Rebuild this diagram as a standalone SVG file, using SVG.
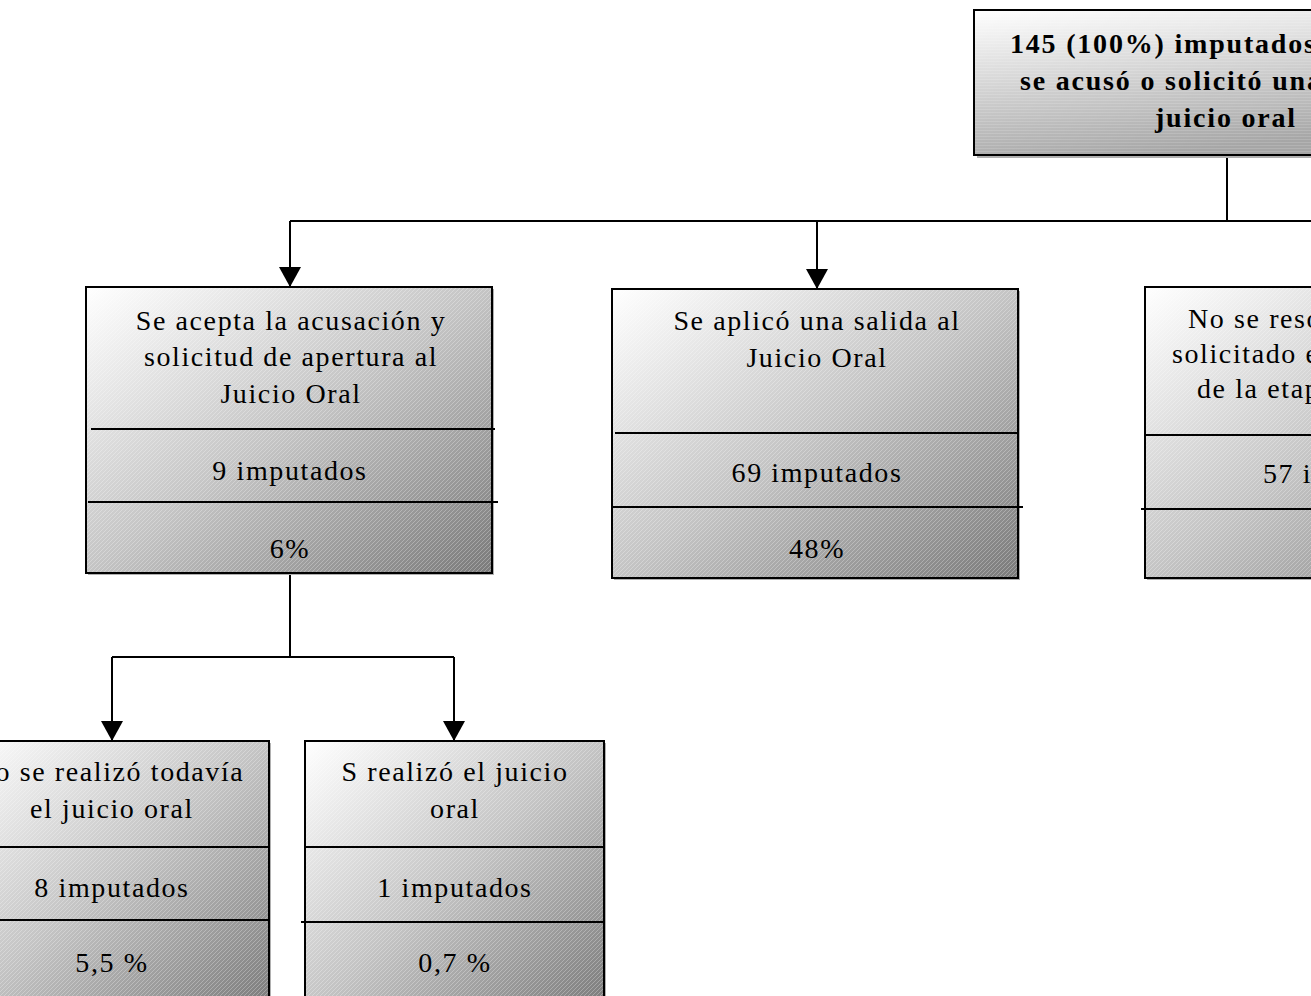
<svg xmlns="http://www.w3.org/2000/svg" width="1311" height="996" viewBox="0 0 1311 996">
  <defs>
    <!-- shaded box fill: light in the top-left corner, darker towards the bottom-right -->
    <linearGradient id="boxShade" x1="0" y1="0" x2="1" y2="1">
      <stop offset="0" stop-color="#ffffff"/>
      <stop offset="0.5" stop-color="#c4c4c4"/>
      <stop offset="1" stop-color="#7a7a7a"/>
    </linearGradient>
    <linearGradient id="headShade" x1="0" y1="0" x2="0.35" y2="1">
      <stop offset="0" stop-color="#ffffff"/>
      <stop offset="1" stop-color="#a6a6a6"/>
    </linearGradient>
    <!-- fine diagonal texture laid over the shading -->
    <pattern id="hatch" patternUnits="userSpaceOnUse" width="4" height="4">
      <path d="M-1,1 L1,-1 M0,4 L4,0 M3,5 L5,3" stroke="#ffffff" stroke-opacity="0.28" stroke-width="1"/>
    </pattern>
    <pattern id="dots" patternUnits="userSpaceOnUse" width="4" height="3">
      <path d="M0,1.5 H4" stroke="#ffffff" stroke-opacity="0.14" stroke-width="1"/>
    </pattern>
    <marker id="arrow" viewBox="0 0 20 22" refX="20" refY="11" markerWidth="20" markerHeight="22" markerUnits="userSpaceOnUse" orient="auto">
      <path d="M0,0 L20,11 L0,22 Z" fill="#000"/>
    </marker>
  </defs>
  <style>
    .shadow { fill: #b0b0b0; }
    .fill { fill: url(#boxShade); }
    .head { fill: url(#headShade); }
    .tex { fill: url(#hatch); }
    .outline { fill: none; stroke: #000; stroke-width: 2; }
    .div { fill: none; stroke: #000; stroke-width: 2; }
    .conn { fill: none; stroke: #000; stroke-width: 2; }
    .t { font-family: "Liberation Serif", "Times New Roman", serif; font-size: 28px; letter-spacing: 1.6px; fill: #000; text-anchor: middle; }
    .tb { font-family: "Liberation Serif", "Times New Roman", serif; font-size: 28px; font-weight: bold; letter-spacing: 1.8px; fill: #000; }
    .s { text-anchor: start; }
  </style>

  <!-- connectors -->
  <g id="connectors">
    <path class="conn" d="M1227,155 V221"/>
    <path class="conn" d="M290,221 H1350"/>
    <path class="conn" d="M290,221 V287" marker-end="url(#arrow)"/>
    <path class="conn" d="M817,221 V289" marker-end="url(#arrow)"/>
    <path class="conn" d="M1350,221 V287" marker-end="url(#arrow)"/>
    <path class="conn" d="M290,573 V657"/>
    <path class="conn" d="M112,657 H454"/>
    <path class="conn" d="M112,657 V741" marker-end="url(#arrow)"/>
    <path class="conn" d="M454,657 V741" marker-end="url(#arrow)"/>
  </g>

  <!-- root node -->
  <g id="node-total">
    <rect class="shadow" x="977" y="13" width="506" height="145"/>
    <rect class="head" x="974" y="10" width="506" height="145"/>
    <rect x="974" y="10" width="506" height="145" fill="url(#dots)"/>
    <rect class="outline" x="974" y="10" width="506" height="145"/>
    <text class="tb" x="1010" y="53">145 (100%) imputados a los que</text>
    <text class="tb" x="1020" y="90">se acusó o solicitó una salida al</text>
    <text class="tb" x="1155" y="127">juicio oral</text>
  </g>

  <!-- accepted accusation -->
  <g id="node-acepta">
    <rect class="shadow" x="88" y="289" width="406" height="286"/>
    <rect class="fill" x="86" y="287" width="406" height="286"/>
    <rect class="tex" x="86" y="287" width="406" height="286"/>
    <rect class="outline" x="86" y="287" width="406" height="286"/>
    <path class="div" d="M91,429 H495"/>
    <path class="div" d="M88,502 H498"/>
    <text class="t" x="291" y="330">Se acepta la acusación y</text>
    <text class="t" x="291" y="366">solicitud de apertura al</text>
    <text class="t" x="291" y="403">Juicio Oral</text>
    <text class="t" x="290" y="480">9 imputados</text>
    <text class="t" x="290" y="558">6%</text>
  </g>

  <!-- exit applied -->
  <g id="node-salida">
    <rect class="shadow" x="614" y="291" width="406" height="289"/>
    <rect class="fill" x="612" y="289" width="406" height="289"/>
    <rect class="tex" x="612" y="289" width="406" height="289"/>
    <rect class="outline" x="612" y="289" width="406" height="289"/>
    <path class="div" d="M615,433 H1018"/>
    <path class="div" d="M612,507 H1023"/>
    <text class="t" x="817" y="330">Se aplicó una salida al</text>
    <text class="t" x="817" y="367">Juicio Oral</text>
    <text class="t" x="817" y="482">69 imputados</text>
    <text class="t" x="817" y="558">48%</text>
  </g>

  <!-- not yet resolved -->
  <g id="node-pendiente">
    <rect class="shadow" x="1147" y="289" width="406" height="291"/>
    <rect class="fill" x="1145" y="287" width="406" height="291"/>
    <rect class="tex" x="1145" y="287" width="406" height="291"/>
    <rect class="outline" x="1145" y="287" width="406" height="291"/>
    <path class="div" d="M1145,435 H1551"/>
    <path class="div" d="M1141,509 H1551"/>
    <text class="t s" x="1188" y="328">No se resolvió todavía lo</text>
    <text class="t s" x="1172" y="363">solicitado en la audiencia</text>
    <text class="t s" x="1197" y="398">de la etapa intermedia</text>
    <text class="t s" x="1263" y="483">57 imputados</text>
  </g>

  <!-- trial not held yet -->
  <g id="node-no-realizado">
    <rect class="shadow" x="-43" y="743" width="314" height="270"/>
    <rect class="fill" x="-45" y="741" width="314" height="270"/>
    <rect class="tex" x="-45" y="741" width="314" height="270"/>
    <rect class="outline" x="-45" y="741" width="314" height="270"/>
    <path class="div" d="M-45,847 H269"/>
    <path class="div" d="M-45,920 H269"/>
    <text class="t" x="109" y="781">No se realizó todavía</text>
    <text class="t" x="112" y="818">el juicio oral</text>
    <text class="t" x="112" y="897">8 imputados</text>
    <text class="t" x="112" y="972">5,5 %</text>
  </g>

  <!-- trial held -->
  <g id="node-realizado">
    <rect class="shadow" x="307" y="743" width="299" height="270"/>
    <rect class="fill" x="305" y="741" width="299" height="270"/>
    <rect class="tex" x="305" y="741" width="299" height="270"/>
    <rect class="outline" x="305" y="741" width="299" height="270"/>
    <path class="div" d="M305,847 H604"/>
    <path class="div" d="M301,922 H604"/>
    <text class="t" x="455" y="781">S realizó el juicio</text>
    <text class="t" x="455" y="818">oral</text>
    <text class="t" x="455" y="897">1 imputados</text>
    <text class="t" x="455" y="972">0,7 %</text>
  </g>
</svg>
